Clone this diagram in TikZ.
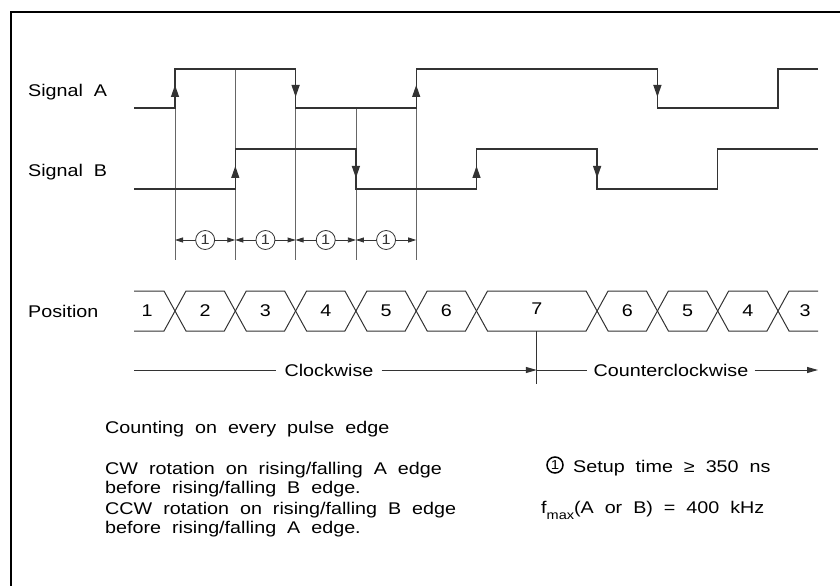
\documentclass[tikz,border=0pt]{standalone}
\usepackage{fontspec}
\setmainfont{Liberation Sans}[FakeStretch=1.165,WordSpace=2]
\usetikzlibrary{arrows.meta}

\begin{document}
\begin{tikzpicture}[x=1bp,y=-1bp,font=\fontsize{17}{20}\selectfont,
  sig/.style={line width=1.3bp,black!80},
  edgearrow/.style={sig,-{Triangle[length=12bp,width=8bp]}},
  ext/.style={line width=0.8bp,black!60},
  dimline/.style={line width=0.8bp,black!80,{Triangle[length=8bp,width=5bp]}-{Triangle[length=8bp,width=5bp]}},
  num/.style={circle,draw,line width=0.8bp,fill=white,minimum size=19bp,inner sep=0pt,font=\fontsize{14}{14}\selectfont},
  bus/.style={line width=1bp,black!80},
  dirline/.style={line width=1bp,black!80},
  lbl/.style={anchor=base west,inner sep=0pt}]

\useasboundingbox (0,0) rectangle (840,586);
\draw[line width=1.3bp] (11,586) -- (11,12) -- (840,12); % frame

\node[lbl] (siga) at (28,97) {Signal A};
\node[lbl] (sigb) at (28,177) {Signal B};
\node[lbl] (pos) at (28,317) {Position};

% extension lines
\draw[ext] (175,108)   -- (175,260);
\draw[ext] (235.3,69)  -- (235.3,260);
\draw[ext] (295.6,108) -- (295.6,260);
\draw[ext] (355.9,108) -- (355.9,260);
\draw[ext] (416.2,108) -- (416.2,260);

% signal A and B
\draw[sig] (134,108) -- (175,108) -- (175,69) -- (295.6,69) -- (295.6,108) -- (416.2,108) -- (416.2,69)
  -- (657.4,69) -- (657.4,108) -- (778,108) -- (778,69) -- (818,69);
\draw[sig] (134,189) -- (235.3,189) -- (235.3,149) -- (355.9,149) -- (355.9,189) -- (476.5,189) -- (476.5,149)
  -- (597.1,149) -- (597.1,189) -- (717.7,189) -- (717.7,149) -- (818,149);

\draw[edgearrow] (175,108)   -- (175,85);
\draw[edgearrow] (295.6,69)  -- (295.6,97);
\draw[edgearrow] (416.2,108) -- (416.2,85);
\draw[edgearrow] (657.4,69)  -- (657.4,97);

\draw[edgearrow] (235.3,189) -- (235.3,166);
\draw[edgearrow] (355.9,149) -- (355.9,178);
\draw[edgearrow] (476.5,189) -- (476.5,166);
\draw[edgearrow] (597.1,149) -- (597.1,178);

% setup times
\foreach \a/\b [count=\i] in {175/235.3, 235.3/295.6, 295.6/355.9, 355.9/416.2}
  \draw[dimline] (\a,240) -- node[num] (t\i) {1} (\b,240);

% position bus
\draw[bus] (134,291) -- (164,291) -- (175,311) -- (164,331) -- (134,331);
\node (p1) at (147,311) {1};
\foreach \a/\b/\n in {175/235.3/2, 235.3/295.6/3, 295.6/355.9/4, 355.9/416.2/5, 416.2/476.5/6,
                      597.1/657.4/6, 657.4/717.7/5, 717.7/778/4}{
  \draw[bus] (\a,311) -- (\a+11,291) -- (\b-11,291) -- (\b,311) -- (\b-11,331) -- (\a+11,331) -- cycle;
  \node (p\a) at ({(\a+\b)/2},311) {\n};
}
\draw[bus] (476.5,311) -- (487.5,291) -- (586.1,291) -- (597.1,311) -- (586.1,331) -- (487.5,331) -- cycle;
\node (p7) at (536.8,309) {7};
\draw[bus] (818,291) -- (789,291) -- (778,311) -- (789,331) -- (818,331);
\node (p3) at (805,311) {3};

% direction
\coordinate (revtop) at (536.8,331);
\coordinate (revbot) at (536.8,384);
\coordinate (rev) at (536.8,370);
\coordinate (cwstart) at (134,370);
\coordinate (ccwend) at (818,370);
\draw[ext,black!80] (revtop) -- (revbot);
\node[inner xsep=8bp] (cw) at (329,370) {Clockwise};
\draw[dirline] (cwstart) -- (cw);
\draw[dirline,-{Triangle[length=11bp,width=6bp]}] (cw) -- (rev);
\node[inner xsep=6bp] (ccw) at (671,370) {Counterclockwise};
\draw[dirline] (rev) -- (ccw);
\draw[dirline,-{Triangle[length=11bp,width=6bp]}] (ccw) -- (ccwend);

% notes
\node[lbl] (count) at (105,433) {Counting on every pulse edge};
\node[lbl] (cw1) at (105,474) {CW rotation on rising/falling A edge};
\node[lbl] (cw2) at (105,493.5) {before rising/falling B edge.};
\node[lbl] (ccw1) at (105,514) {CCW rotation on rising/falling B edge};
\node[lbl] (ccw2) at (105,533) {before rising/falling A edge.};

\node[circle,draw,line width=1.5bp,minimum size=16bp,inner sep=0pt,font=\fontsize{13}{13}\selectfont] (note) at (555,465) {1};
\node[lbl] (setup) at (573,472) {Setup time ≥ 350 ns};
\node[lbl] (fmax) at (541,513) {f\raisebox{-6bp}{\fontsize{12.5}{12}\selectfont max}(A or B) = 400 kHz};

\end{tikzpicture}
\end{document}
